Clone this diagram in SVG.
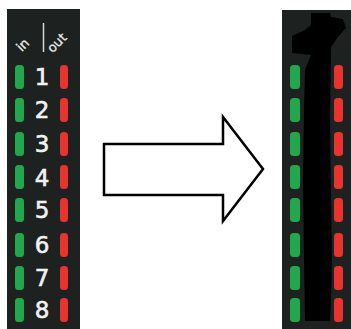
<svg xmlns="http://www.w3.org/2000/svg" width="351" height="329" viewBox="0 0 351 329">
<style>
.panel{fill:#1d2120}
.g{fill:#22a84c}
.r{fill:#e8332f}
.num{font-family:"DejaVu Sans","Liberation Sans",sans-serif;font-size:23px;fill:#f2f2f2;stroke:#f2f2f2;stroke-width:0.6;text-anchor:middle}
.lbl{font-family:"DejaVu Sans","Liberation Sans",sans-serif;font-size:13px;fill:#e8e8e8;stroke:#e8e8e8;stroke-width:0.3;text-anchor:middle}
</style>
<rect width="351" height="329" fill="#ffffff"/>
<g id="left-panel">
<rect class="panel" x="7" y="9" width="73" height="320"/>
<text class="lbl" transform="translate(26,48) rotate(-45)">in</text>
<line x1="43.5" y1="23" x2="43.5" y2="52" stroke="#d8d8d8" stroke-width="1.5"/>
<text class="lbl" transform="translate(60,46) rotate(-45)">out</text>
<g id="row1"><rect class="g" x="15" y="65" width="9" height="24" rx="3.5"/><rect class="r" x="60" y="65" width="8" height="24" rx="3.5"/><text class="num" x="42" y="85">1</text></g>
<g id="row2"><rect class="g" x="15" y="98" width="9" height="24" rx="3.5"/><rect class="r" x="60" y="98" width="8" height="24" rx="3.5"/><text class="num" x="42" y="118">2</text></g>
<g id="row3"><rect class="g" x="15" y="132" width="9" height="24" rx="3.5"/><rect class="r" x="60" y="132" width="8" height="24" rx="3.5"/><text class="num" x="42" y="152">3</text></g>
<g id="row4"><rect class="g" x="15" y="165" width="9" height="24" rx="3.5"/><rect class="r" x="60" y="165" width="8" height="24" rx="3.5"/><text class="num" x="42" y="186">4</text></g>
<g id="row5"><rect class="g" x="15" y="198" width="9" height="24" rx="3.5"/><rect class="r" x="60" y="198" width="8" height="24" rx="3.5"/><text class="num" x="42" y="218">5</text></g>
<g id="row6"><rect class="g" x="15" y="233" width="9" height="24" rx="3.5"/><rect class="r" x="60" y="233" width="8" height="24" rx="3.5"/><text class="num" x="42" y="253">6</text></g>
<g id="row7"><rect class="g" x="15" y="266" width="9" height="24" rx="3.5"/><rect class="r" x="60" y="266" width="8" height="24" rx="3.5"/><text class="num" x="42" y="286">7</text></g>
<g id="row8"><rect class="g" x="15" y="298" width="9" height="24" rx="3.5"/><rect class="r" x="60" y="298" width="8" height="24" rx="3.5"/><text class="num" x="42" y="318">8</text></g>
</g>
<g id="arrow">
<path d="M104,144 H223 V117 L263,169 L223,221 V195 H104 Z" fill="#ffffff" stroke="#000000" stroke-width="2.5" stroke-linejoin="miter"/>
</g>
<g id="right-panel">
<rect class="panel" x="282" y="10" width="69" height="319"/>
<rect class="g" x="290" y="65" width="10" height="24" rx="3.5"/><rect class="r" x="334" y="65" width="9" height="24" rx="3.5"/>
<rect class="g" x="290" y="98" width="10" height="24" rx="3.5"/><rect class="r" x="334" y="98" width="9" height="24" rx="3.5"/>
<rect class="g" x="290" y="132" width="10" height="24" rx="3.5"/><rect class="r" x="334" y="132" width="9" height="24" rx="3.5"/>
<rect class="g" x="290" y="165" width="10" height="24" rx="3.5"/><rect class="r" x="334" y="165" width="9" height="24" rx="3.5"/>
<rect class="g" x="290" y="198" width="10" height="24" rx="3.5"/><rect class="r" x="334" y="198" width="9" height="24" rx="3.5"/>
<rect class="g" x="290" y="233" width="10" height="24" rx="3.5"/><rect class="r" x="334" y="233" width="9" height="24" rx="3.5"/>
<rect class="g" x="290" y="266" width="10" height="24" rx="3.5"/><rect class="r" x="334" y="266" width="9" height="24" rx="3.5"/>
<rect class="g" x="290" y="298" width="10" height="24" rx="3.5"/><rect class="r" x="334" y="298" width="9" height="24" rx="3.5"/>
<path d="M311,13 L330,13 L331,17 L343,19 L346,28 L338,37 L331,47 L330,120 L331,200 L332,260 L331,300 L330,321 L305,321 L304,260 L303,180 L304,110 L305,70 L311,55 L292,53 L292,36 L305,30 L311,25 Z" fill="#000000"/>
</g>
</svg>
